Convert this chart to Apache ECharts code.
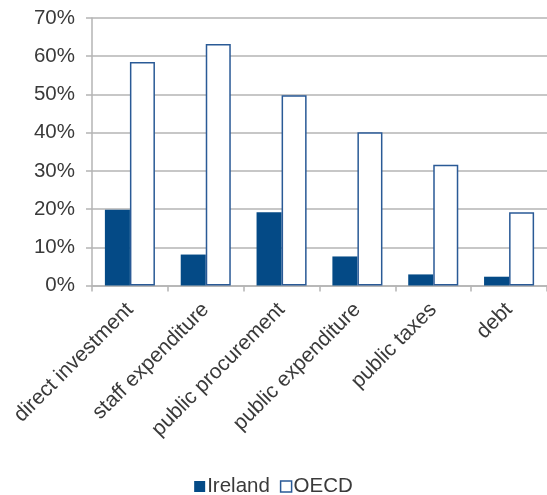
<!DOCTYPE html>
<html>
<head>
<meta charset="utf-8">
<script src="https://cdn.jsdelivr.net/npm/echarts@6/dist/echarts.min.js"></script>
<style>html,body{margin:0;padding:0;background:#fff}#c{width:547px;height:495px}</style>
</head>
<body>
<div id="c"></div>
<script>
const categories = ['direct investment','staff expenditure','public procurement','public expenditure','public taxes','debt'];
const ireland = [19.8, 8.1, 19.2, 7.6, 2.9, 2.3];
const oecd = [58.5, 63.2, 49.8, 40.1, 31.6, 19.2];
const yTicks = {min: 0, max: 70, interval: 10};

const txt = '#3a3a3a';
const font = 'Liberation Sans';
const chart = echarts.init(document.getElementById('c'), null, {renderer: 'canvas'});
chart.setOption({
  animation: false,
  textStyle: {fontFamily: font},
  grid: {left: 92, right: -4, top: 18, bottom: 209.5, containLabel: false},
  legend: {
    bottom: -7, left: 'center', itemWidth: 11, itemHeight: 11, itemGap: 10,
    textStyle: {fontSize: 20.5, color: txt, fontFamily: font, padding: [0,0,0,-3]},
    data: [
      {name: 'Ireland', icon: 'rect'},
      {name: 'OECD', icon: 'rect', itemStyle: {color: '#fff', borderColor: '#2a5a96', borderWidth: 1.5}}
    ]
  },
  xAxis: {
    type: 'category', data: categories,
    axisLine: {lineStyle: {color: '#b4b4b4', width: 1.5}},
    axisTick: {show: true, length: 6, lineStyle: {color: '#b4b4b4', width: 1.5}},
    axisLabel: {rotate: 45, interval: 0, fontSize: 21, color: txt, margin: 21, fontFamily: font}
  },
  yAxis: {
    type: 'value', min: yTicks.min, max: yTicks.max, interval: yTicks.interval,
    axisLine: {show: true, lineStyle: {color: '#b4b4b4', width: 1.5}},
    axisTick: {show: true, length: 6, lineStyle: {color: '#b4b4b4', width: 1.5}},
    splitLine: {lineStyle: {color: '#b4b4b4', width: 1.5}},
    axisLabel: {formatter: '{value}%', fontSize: 20.5, color: txt, margin: 17, fontFamily: font}
  },
  series: [
    {name: 'Ireland', type: 'bar', data: ireland, barGap: '0%', barCategoryGap: '34%',
     itemStyle: {color: '#044a86'}},
    {name: 'OECD', type: 'bar', data: oecd,
     itemStyle: {color: '#fff', borderColor: '#2a5a96', borderWidth: 1.5}}
  ]
});
</script>
</body>
</html>
